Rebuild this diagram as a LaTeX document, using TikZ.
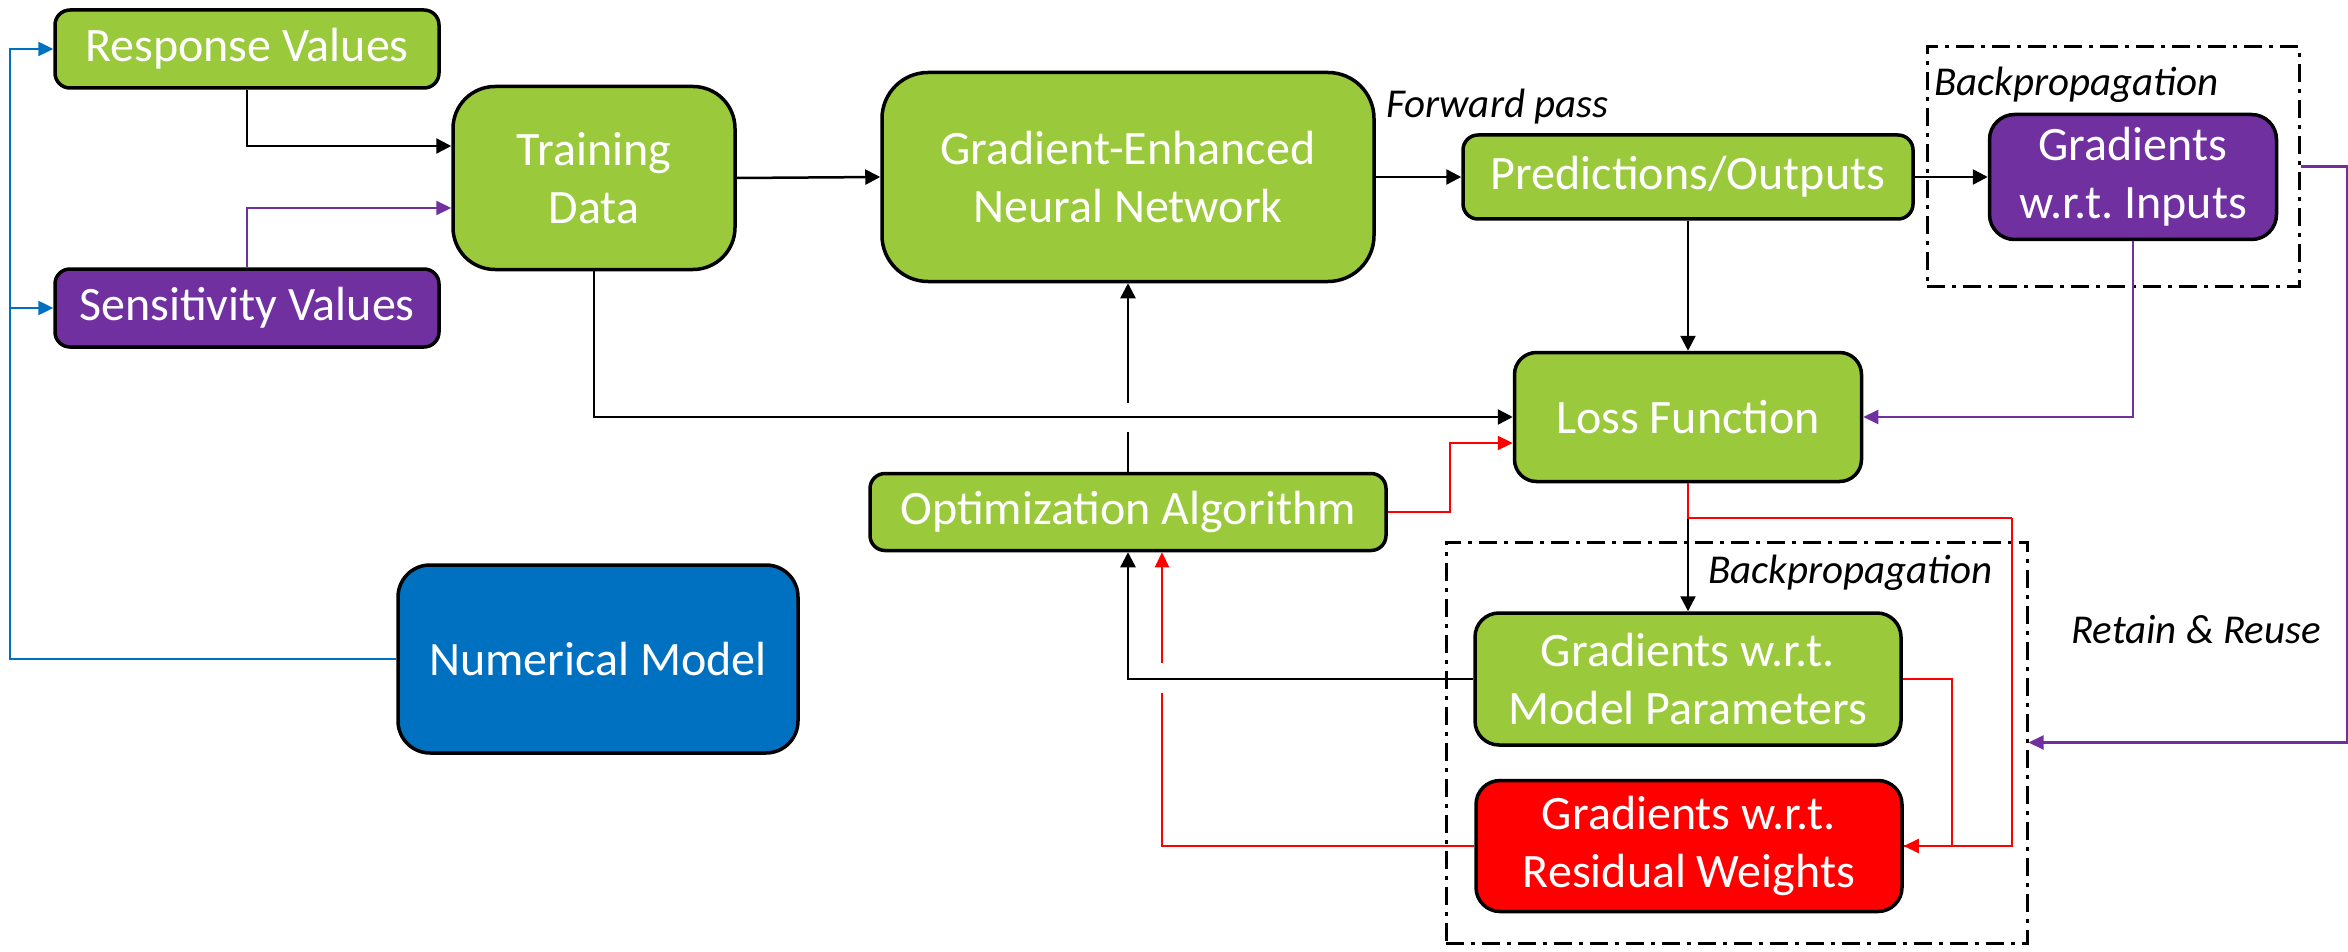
\documentclass[tikz,border=0pt]{standalone}
\usepackage{fontspec}
\setmainfont{Carlito}
\usetikzlibrary{arrows.meta}
\frenchspacing
\definecolor{cgreen}{HTML}{9ACA3C}
\definecolor{cpurple}{HTML}{7030A0}
\definecolor{cblue}{HTML}{0070C0}
\definecolor{cred}{HTML}{FF0000}
\tikzset{
  box/.style={draw=black, line width=3.5pt, text=white, align=center, inner sep=0pt,
    font=\fontsize{48}{58}\selectfont},
  gbox/.style={box, fill=cgreen},
  pbox/.style={box, fill=cpurple},
  rbox/.style={box, fill=cred},
  bbox/.style={box, fill=cblue},
  dbox/.style={draw=black, line width=3pt, dash pattern=on 18pt off 7pt on 4pt off 7pt, inner sep=0pt},
  lbl/.style={font=\fontsize{41}{48}\selectfont\itshape, inner sep=0pt},
  arr/.style={draw=black, line width=2.5pt, -{Triangle[length=15pt,width=15pt]}},
  parr/.style={draw=cpurple, line width=2.2pt, -{Triangle[length=15pt,width=14pt]}},
  rarr/.style={draw=cred, line width=2.2pt, -{Triangle[length=15pt,width=14pt]}},
  barr/.style={draw=cblue, line width=2.5pt, -{Triangle[length=15pt,width=14pt]}},
  rline/.style={draw=cred, line width=2.2pt},
  kline/.style={draw=black, line width=2.5pt},
}
\begin{document}
\begin{tikzpicture}[x=1pt,y=-1pt]
\useasboundingbox (0,0) rectangle (2348,952);
% dash-dot group boxes
\node[dbox, minimum width=372pt, minimum height=239pt] (ubox) at (2113,166.5) {};
\node[dbox, minimum width=581pt, minimum height=401pt] (lbox) at (1736.5,742.5) {};
% nodes
\node[gbox, minimum width=384pt, minimum height=78pt, rounded corners=15pt] (resp) at (247,49) {Response Values};
\node[pbox, minimum width=384pt, minimum height=78pt, rounded corners=15pt] (sens) at (247,308) {Sensitivity Values};
\node[gbox, minimum width=282pt, minimum height=183pt, rounded corners=42pt] (train) at (594,178) {Training\\Data};
\node[gbox, minimum width=492pt, minimum height=209pt, rounded corners=46pt] (genn) at (1128,177) {Gradient-Enhanced\\Neural Network};
\node[gbox, minimum width=450pt, minimum height=84pt, rounded corners=15pt] (pred) at (1688,177) {Predictions/Outputs};
\node[pbox, minimum width=287pt, minimum height=125pt, rounded corners=25pt] (gin) at (2133,177) {Gradients\\w.r.t. Inputs};
\node[gbox, minimum width=347pt, minimum height=129pt, rounded corners=22pt] (loss) at (1688,417) {Loss Function};
\node[gbox, minimum width=516pt, minimum height=77pt, rounded corners=15pt] (opt) at (1128,512) {Optimization Algorithm};
\node[gbox, minimum width=426pt, minimum height=132pt, rounded corners=24pt] (gmp) at (1688,679) {Gradients w.r.t.\\Model Parameters};
\node[rbox, minimum width=426pt, minimum height=131pt, rounded corners=24pt] (grw) at (1689,846) {Gradients w.r.t.\\Residual Weights};
\node[bbox, minimum width=400pt, minimum height=188pt, rounded corners=32pt] (num) at (598,659) {Numerical Model};
% labels
\node[lbl, anchor=base west] (fwd) at (1386,118) {Forward pass};
\node[lbl, anchor=base west] (bp1) at (1934,96) {Backpropagation};
\node[lbl, anchor=base west] (bp2) at (1708,583) {Backpropagation};
\node[lbl, anchor=base west] (rr) at (2071,643) {Retain \& Reuse};
% helper coordinates
\coordinate (hA) at (0,432);
\coordinate (hB) at (0,403);
\coordinate (rx) at (1162,0);
\coordinate (rA) at (0,693);
\coordinate (rB) at (0,663);
\coordinate (rc) at (2012,518);
\coordinate (bl) at (10,659);
% connectors
\draw[arr] (resp.south) |- ([yshift=32pt]train.west);
\draw[parr] (sens.north) |- ([yshift=-30pt]train.west);
\draw[arr] (train.east) -- (genn.west);
\draw[arr] (genn.east) -- (pred.west);
\draw[arr] (pred.east) -- (gin.west);
\draw[arr] (pred.south) -- (loss.north);
\draw[arr] (train.south) |- (loss.west);
\draw[kline] (opt.north) -- (opt.north |- hA);
\draw[arr] (opt.north |- hB) -- (genn.south);
\draw[rarr] (opt.east) -- ++(62,0) |- ([yshift=-26pt]loss.west);
\draw[parr] (gin.south) |- (loss.east);
\draw[arr] (loss.south) -- (gmp.north);
\draw[rline] (loss.south) |- (rc);
\draw[rarr] (rc) |- (grw.east);
\draw[rline] (gmp.east) -- ++(49,0) |- (grw.east);
\draw[arr] (gmp.west) -| (opt.south);
\draw[rline] (grw.west) -| (rx |- rA);
\draw[rarr] (rx |- rB) -- (rx |- opt.south);
\draw[parr] (ubox.east) -- ++(47,0) |- (lbox.east);
\draw[barr] (num.west) -- (bl) |- (resp.west);
\draw[barr] (bl |- sens.west) -- (sens.west);
\end{tikzpicture}
\end{document}
